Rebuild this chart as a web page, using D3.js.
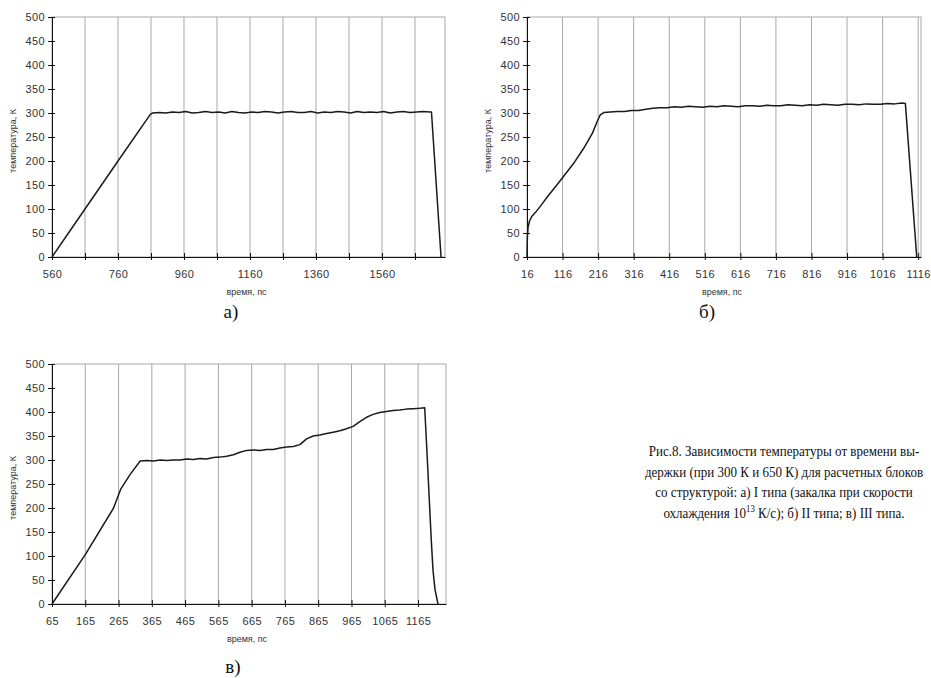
<!DOCTYPE html>
<html>
<head>
<meta charset="utf-8">
<script src="https://d3js.org/d3.v7.min.js"></script>
<style>
  body { margin: 0; background: #fff; }
</style>
</head>
<body>
<svg id="mainSvg" width="931" height="678"></svg>

<script>
// temperature axis (same for all three plots)
var tempTicks = [0, 50, 100, 150, 200, 250, 300, 350, 400, 450, 500];

// plot а)
var timeA = [560, 660, 760, 858, 865, 885, 905, 925, 945, 965, 985, 1005, 1025, 1045, 1065, 1085, 1105, 1125, 1145, 1165, 1185, 1205, 1225, 1245, 1265, 1285, 1305, 1325, 1345, 1365, 1385, 1405, 1425, 1445, 1465, 1485, 1505, 1525, 1545, 1565, 1585, 1605, 1625, 1645, 1665, 1685, 1705, 1710, 1739];
var tempA = [0, 100, 200, 297, 300, 301, 300, 302, 301, 303, 300, 301, 303, 301, 302, 300, 303, 301, 300, 302, 301, 303, 302, 300, 302, 303, 301, 301, 303, 300, 302, 301, 303, 302, 300, 303, 301, 302, 301, 303, 300, 302, 303, 301, 302, 303, 302, 302, 0];
var ticksA = [560, 660, 760, 860, 960, 1060, 1160, 1260, 1360, 1460, 1560, 1660];
var labelsA = [560, 760, 960, 1160, 1360, 1560];

// plot б)
var timeB = [16, 17, 19, 23, 30, 40, 55, 75, 100, 125, 150, 175, 200, 215, 222, 232, 250, 270, 290, 310, 330, 350, 370, 390, 410, 430, 450, 470, 490, 510, 530, 550, 570, 590, 610, 630, 650, 670, 690, 710, 730, 750, 770, 790, 810, 830, 850, 870, 890, 910, 930, 950, 970, 990, 1010, 1030, 1050, 1070, 1080, 1112];
var tempB = [0, 40, 62, 75, 85, 93, 107, 127, 150, 174, 198, 226, 258, 285, 296, 301, 302, 303, 303, 305, 305, 308, 310, 311, 311, 313, 312, 314, 313, 312, 314, 313, 315, 314, 313, 315, 315, 314, 316, 315, 315, 317, 316, 315, 317, 316, 318, 317, 316, 318, 318, 317, 319, 318, 318, 320, 319, 321, 320, 0];
var ticksB = [16, 116, 216, 316, 416, 516, 616, 716, 816, 916, 1016, 1116];
var labelsB = ticksB;

// plot в)
var timeC = [65, 165, 250, 262, 272, 300, 330, 350, 370, 390, 410, 430, 450, 470, 490, 510, 530, 550, 570, 590, 610, 630, 650, 670, 690, 710, 730, 750, 770, 790, 810, 830, 850, 870, 890, 910, 930, 950, 970, 990, 1010, 1030, 1050, 1070, 1090, 1110, 1130, 1150, 1170, 1185, 1193, 1200, 1205, 1210, 1216, 1225];
var tempC = [0, 103, 200, 222, 240, 270, 298, 299, 298, 300, 299, 300, 300, 302, 301, 303, 302, 305, 306, 308, 311, 316, 320, 321, 320, 322, 322, 325, 327, 328, 332, 344, 350, 352, 355, 358, 361, 365, 370, 380, 389, 395, 399, 401, 403, 404, 406, 407, 408, 409, 300, 200, 130, 70, 30, 0];
var ticksC = [65, 165, 265, 365, 465, 565, 665, 765, 865, 965, 1065, 1165];
var labelsC = ticksC;

var caption = [
  "Рис.8. Зависимости температуры от времени вы-",
  "держки (при 300 К и 650 К) для расчетных блоков",
  "со структурой: а) I типа (закалка при скорости"
];

var panels = [
  { time: timeA, temp: tempA, ticks: ticksA, labels: labelsA, domain: [560, 1751],
    left: 52, right: 445, top: 17, bottom: 257, letter: "а)", letterX: 231, letterY: 318 },
  { time: timeB, temp: tempB, ticks: ticksB, labels: labelsB, domain: [16, 1124],
    left: 527, right: 921, top: 17, bottom: 257, letter: "б)", letterX: 707, letterY: 318 },
  { time: timeC, temp: tempC, ticks: ticksC, labels: labelsC, domain: [65, 1249],
    left: 52, right: 446, top: 364, bottom: 604, letter: "в)", letterX: 233, letterY: 673 }
];

var svg = d3.select("#mainSvg");
svg.append("rect").attr("width", 931).attr("height", 678).attr("fill", "#fff");

panels.forEach(function(p) {
  var x = d3.scaleLinear().domain(p.domain).range([p.left, p.right]);
  var y = d3.scaleLinear().domain([0, 500]).range([p.bottom, p.top]);
  var g = svg.append("g");

  // plot area border
  g.append("rect")
    .attr("x", p.left).attr("y", p.top)
    .attr("width", p.right - p.left).attr("height", p.bottom - p.top)
    .attr("fill", "none").attr("stroke", "#a8a8a8").attr("stroke-width", 1);

  // vertical grid lines
  g.selectAll(".grid")
    .data(p.ticks.slice(1))
    .enter().append("line")
    .attr("x1", d => x(d)).attr("x2", d => x(d))
    .attr("y1", p.top).attr("y2", p.bottom)
    .attr("stroke", "#a8a8a8").attr("stroke-width", 1);

  // x axis
  var xAxis = g.append("g")
    .attr("transform", "translate(0," + p.bottom + ")")
    .call(d3.axisBottom(x).tickValues(p.ticks).tickSizeInner(3).tickSizeOuter(0).tickPadding(10)
      .tickFormat(d => p.labels.indexOf(d) >= 0 ? d : ""));
  xAxis.selectAll(".tick line").attr("y1", -4);

  // y axis
  var yAxis = g.append("g")
    .attr("transform", "translate(" + p.left + ",0)")
    .call(d3.axisLeft(y).tickValues(tempTicks).tickSizeInner(4).tickSizeOuter(0).tickPadding(3));
  yAxis.selectAll(".tick line").attr("x1", 3);

  g.selectAll(".domain, .tick line").attr("stroke", "#111").attr("stroke-width", 1);
  g.selectAll(".tick text")
    .attr("font-family", "Liberation Sans, Arial, sans-serif")
    .attr("font-size", 11).attr("letter-spacing", 0.4).attr("fill", "#333");

  // the curve
  g.append("path")
    .datum(d3.zip(p.time, p.temp))
    .attr("d", d3.line().x(d => x(d[0])).y(d => y(d[1])))
    .attr("fill", "none").attr("stroke", "#1a1a1a").attr("stroke-width", 1.5)
    .attr("stroke-linejoin", "round");

  // axis titles
  g.append("text")
    .attr("x", (p.left + p.right) / 2 - 2).attr("y", p.bottom + 38)
    .attr("text-anchor", "middle")
    .attr("font-family", "Liberation Sans, Arial, sans-serif").attr("font-size", 9)
    .attr("fill", "#333")
    .text("время, пс");
  g.append("text")
    .attr("transform", "translate(" + (p.left - 36) + "," + ((p.top + p.bottom) / 2 + 4) + ") rotate(-90)")
    .attr("text-anchor", "middle")
    .attr("font-family", "Liberation Sans, Arial, sans-serif").attr("font-size", 9)
    .attr("fill", "#333")
    .text("температура, К");

  // panel letter
  g.append("text")
    .attr("x", p.letterX).attr("y", p.letterY)
    .attr("text-anchor", "middle")
    .attr("font-family", "Liberation Serif, Times New Roman, serif").attr("font-size", 19)
    .attr("fill", "#111")
    .text(p.letter);
});

// figure caption (glyphs in the scan are tall and narrow)
var cap = svg.append("g")
  .attr("font-family", "Liberation Serif, Times New Roman, serif")
  .attr("font-size", 15).attr("fill", "#111")
  .attr("text-anchor", "middle");

function capLine(i) {
  return cap.append("text")
    .attr("transform", "translate(784," + (456 + i * 20.5) + ") scale(0.87,1)");
}

caption.forEach(function(line, i) {
  capLine(i).text(line);
});
var last = capLine(3);
last.append("tspan").text("охлаждения 10");
last.append("tspan").attr("font-size", 10).attr("dy", -6).text("13");
last.append("tspan").attr("dy", 6).text(" К/с); б) II типа; в) III типа.");
</script>
</body>
</html>
